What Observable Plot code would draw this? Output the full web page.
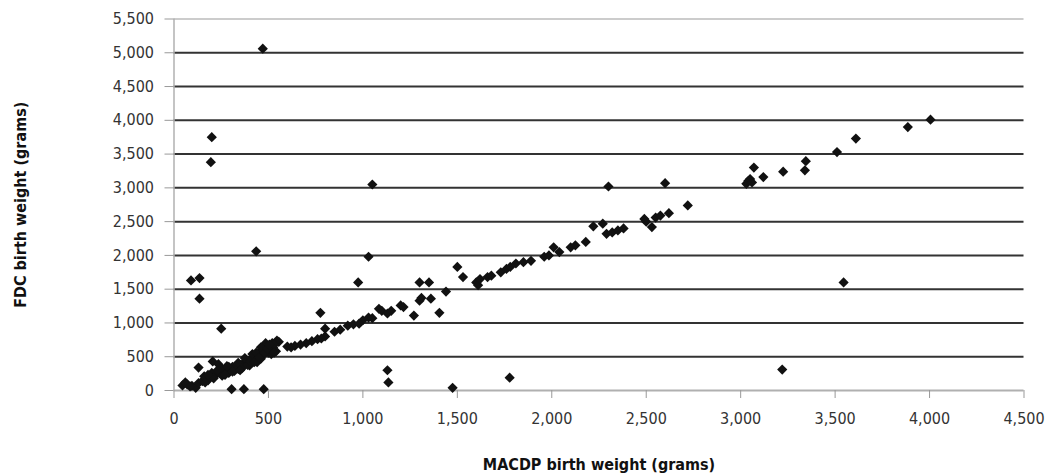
<!DOCTYPE html>
<html>
<head>
<meta charset="utf-8">
<script src="https://cdn.jsdelivr.net/npm/d3@7"></script>
<script src="https://cdn.jsdelivr.net/npm/@observablehq/plot@0.6"></script>
<style>
  html, body { margin: 0; padding: 0; background: #fff; }
  #chart svg { display: block; font-stretch: condensed; }
  #chart svg text { font-stretch: condensed; }
</style>
</head>
<body>
<div id="chart"></div>
<script>
// MACDP birth weight (grams) -> x ; FDC birth weight (grams) -> y
const macdp = [
  470, 200, 195, 1050, 435, 1030, 90, 135, 135, 250, 975, 775, 800,
  1130, 1135, 1475, 475, 305, 370, 130, 1777, 3220, 3545, 2300, 2600,
  1300, 1350, 1270, 1405,
  1500, 1530, 1600, 1610, 1620, 1660, 1680, 1730, 1760, 1780, 1810, 1850,
  1890, 1960, 1985, 2010, 2040, 2100, 2125, 2180, 2220, 2270, 2290, 2320,
  2350, 2380, 2490, 2500, 2530, 2550, 2575, 2620, 2720, 3030, 3040, 3050,
  3060, 3070, 3120, 3225, 3345, 3340, 3510, 3610, 3885, 4005,
  1200, 1215, 1300, 1310, 1360, 1440, 1000, 1030, 1050, 1085, 1100, 1130,
  1150, 920, 950, 980, 880, 850, 800, 780, 760, 730, 700, 670, 640, 620,
  600, 555, 545,
  45, 70, 95, 115, 130, 150, 170, 190, 200, 205, 235,
  220, 240, 260, 280, 300, 310, 330, 350, 365, 380, 395, 410, 420, 430,
  445, 455, 465, 475, 485, 470, 500, 510, 525, 540, 520,
  60, 85, 160, 180, 255, 290, 320, 340, 400, 440, 460, 490, 515, 530,
  250, 270, 290, 310, 340, 360, 375, 390, 405, 415, 425, 435, 450, 460,
  480, 495, 505, 530, 350, 280, 230, 210, 180, 165
];
const fdc = [
  5060, 3750, 3380, 3050, 2060, 1980, 1630, 1665, 1360, 915, 1600, 1150, 915,
  300, 120, 40, 20, 20, 20, 340, 190, 310, 1600, 3020, 3070,
  1600, 1600, 1110, 1150,
  1830, 1680, 1600, 1560, 1650, 1680, 1700, 1750, 1800, 1830, 1880, 1900,
  1920, 1980, 2000, 2120, 2050, 2120, 2150, 2200, 2430, 2470, 2320, 2340,
  2370, 2400, 2540, 2500, 2420, 2560, 2590, 2625, 2740, 3060, 3100, 3130,
  3080, 3300, 3160, 3240, 3395, 3260, 3530, 3730, 3900, 4010,
  1260, 1235, 1330, 1370, 1360, 1465, 1040, 1080, 1070, 1210, 1180, 1140,
  1180, 960, 980, 990, 900, 870, 800, 770, 760, 730, 700, 680, 660, 640,
  650, 720, 740,
  75, 90, 70, 40, 110, 140, 170, 200, 260, 430, 390,
  230, 260, 280, 300, 320, 350, 360, 380, 400, 430, 440, 470, 500, 480,
  520, 550, 600, 640, 700, 520, 560, 600, 640, 580, 700,
  120, 60, 210, 150, 220, 260, 290, 320, 370, 420, 470, 620, 540, 680,
  330, 230, 350, 280, 410, 330, 480, 380, 430, 540, 420, 560, 490, 640,
  560, 620, 680, 560, 300, 360, 300, 180, 230, 120
];
const xTicks = [0, 500, 1000, 1500, 2000, 2500, 3000, 3500, 4000, 4500];
const yTicks = [0, 500, 1000, 1500, 2000, 2500, 3000, 3500, 4000, 4500, 5000, 5500];
const xTitle = "MACDP birth weight (grams)";
const yTitle = "FDC birth weight (grams)";

const points = macdp.map((m, i) => ({macdp: m, fdc: fdc[i]}));
const fmt = d3.format(",");
const font = "'DejaVu Sans Condensed', 'DejaVu Sans', sans-serif";

const chart = Plot.plot({
  width: 1051,
  height: 474,
  marginLeft: 173.5,
  marginRight: 27.5,
  marginTop: 18.5,
  marginBottom: 84,
  style: {fontFamily: font, fontSize: "16px", color: "#333", background: "#fff"},
  x: {domain: [0, 4500]},
  y: {domain: [0, 5500]},
  marks: [
    Plot.ruleY(yTicks.filter(d => d > 0 && d < 5500), {stroke: "#333", strokeWidth: 2}),
    Plot.ruleY([5500], {stroke: "#bbb", strokeWidth: 1.5}),
    Plot.ruleY([0], {stroke: "#b0b0b0", strokeWidth: 2}),
    Plot.ruleX([0], {stroke: "#b0b0b0", strokeWidth: 1.5}),
    Plot.axisX({ticks: xTicks, tickFormat: fmt, tickSize: 8, tickPadding: 14, stroke: "#999", label: null, fontWeight: 300}),
    Plot.axisY({ticks: yTicks, tickFormat: fmt, tickSize: 9, tickPadding: 11, stroke: "#999", label: null, fontWeight: 300}),
    Plot.dot(points, {x: "macdp", y: "fdc", symbol: "diamond2", r: 4.6, fill: "#111", stroke: "none"}),
    Plot.text([xTitle], {frameAnchor: "bottom", dy: 79, fontWeight: "bold", fontSize: 16, fill: "#111"}),
    Plot.text([yTitle], {frameAnchor: "left", dx: -153, textAnchor: "middle", rotate: -90, fontWeight: "bold", fontSize: 16, fill: "#111"})
  ]
});
document.getElementById("chart").appendChild(chart);
</script>
</body>
</html>
